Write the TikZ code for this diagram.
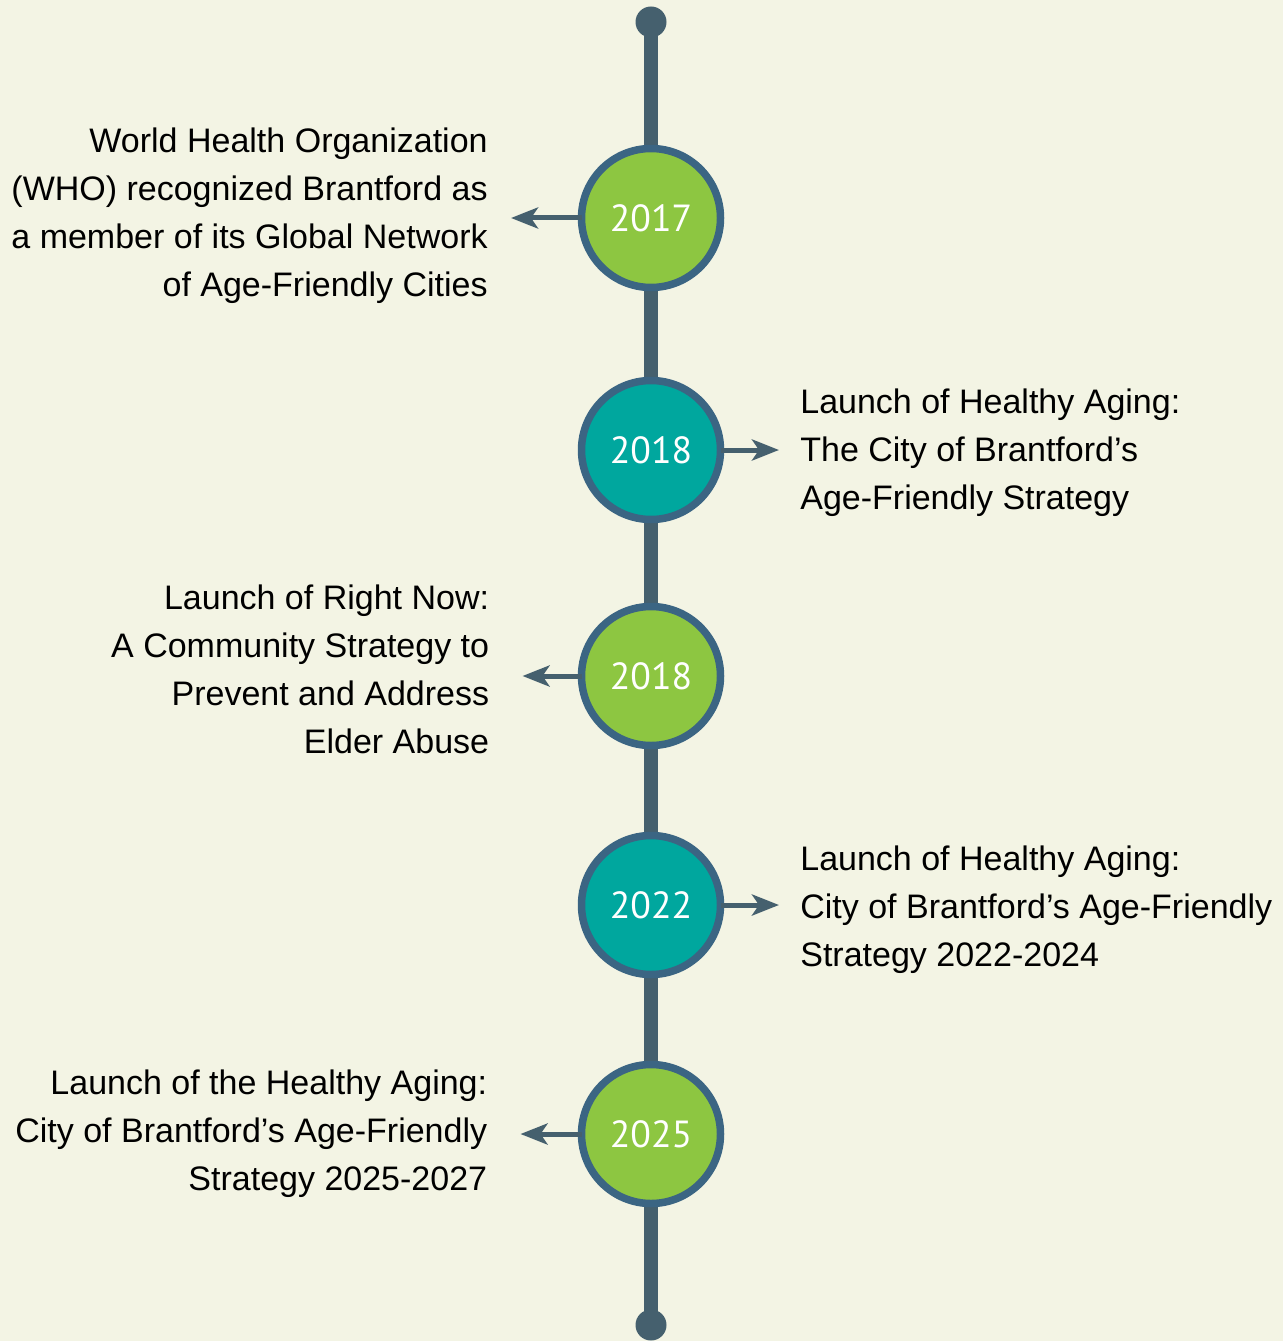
\documentclass[tikz,border=0pt]{standalone}
\usepackage{fontspec}
\setmainfont{Liberation Sans}
\newfontfamily\yearfont{PT Sans}
\usepackage{xcolor}
\usepackage{tikz}
\usetikzlibrary{shapes,arrows.meta,positioning}

\definecolor{paper}{HTML}{F3F4E4}
\definecolor{spinec}{HTML}{45606E}
\definecolor{ringc}{HTML}{3B6583}
\definecolor{leafg}{HTML}{8DC641}
\definecolor{tealc}{HTML}{00A79E}

\begin{document}
\begin{tikzpicture}[node distance=1.8cm,
    year/.style={circle, draw=ringc, line width=0.15cm, minimum size=2.78cm, inner sep=0pt, outer sep=0pt,
        text=white, font=\yearfont\fontsize{21.5}{24}\selectfont},
    green/.style={year, fill=leafg},
    teal/.style={year, fill=tealc},
    event/.style={inner sep=0pt, font=\fontsize{19.35}{27.3}\selectfont},
    eventl/.style={event, align=right},
    eventr/.style={event, align=left},
    pointer/.style={-{Stealth[length=0.54cm, width=0.42cm, inset=0.14cm]}, draw=spinec, line width=0.1cm}]

    \fill[paper] (0,0) rectangle (25.66,-26.82);
    \useasboundingbox (0,0) rectangle (25.66,-26.82);

    % timeline spine
    \coordinate (top) at (13.02,-0.44);
    \coordinate (bottom) at (13.02,-26.5);
    \draw[spinec, line width=0.28cm] (top) -- (bottom);
    \fill[spinec] (top) circle (0.31cm);
    \fill[spinec] (bottom) circle (0.31cm);

    \node[green] (yr1) at (13.02,-4.36) {2017};
    \node[teal, below=1.86cm of yr1] (yr2) {2018};
    \node[green, below=1.74cm of yr2] (yr3) {2018};
    \node[teal, below=of yr3] (yr4) {2022};
    \node[green, below=of yr4] (yr5) {2025};

    \node[eventl, left=1.87cm of yr1, yshift=0.04cm] (ev1) {World Health Organization\\(WHO) recognized Brantford as\\a member of its Global Network\\of Age-Friendly Cities};
    \node[eventr, right=1.59cm of yr2, yshift=-0.06cm] (ev2) {Launch of Healthy Aging:\\The City of Brantford’s\\Age-Friendly Strategy};
    \node[eventl, left=1.84cm of yr3, yshift=0.14cm] (ev3) {Launch of Right Now:\\A Community Strategy to\\Prevent and Address\\Elder Abuse};
    \node[eventr, right=1.59cm of yr4, yshift=-0.1cm] (ev4) {Launch of Healthy Aging:\\City of Brantford’s Age-Friendly\\Strategy 2022-2024};
    \node[eventl, left=1.88cm of yr5] (ev5) {Launch of the Healthy Aging:\\City of Brantford’s Age-Friendly\\Strategy 2025-2027};

    \draw[pointer, shorten >=0.46cm] (yr1.west) -- (yr1.west -| ev1.east);
    \draw[pointer, shorten >=0.42cm] (yr2.east) -- (yr2.east -| ev2.west);
    \draw[pointer, shorten >=0.66cm] (yr3.west) -- (yr3.west -| ev3.east);
    \draw[pointer, shorten >=0.42cm] (yr4.east) -- (yr4.east -| ev4.west);
    \draw[pointer, shorten >=0.66cm] (yr5.west) -- (yr5.west -| ev5.east);
\end{tikzpicture}
\end{document}
